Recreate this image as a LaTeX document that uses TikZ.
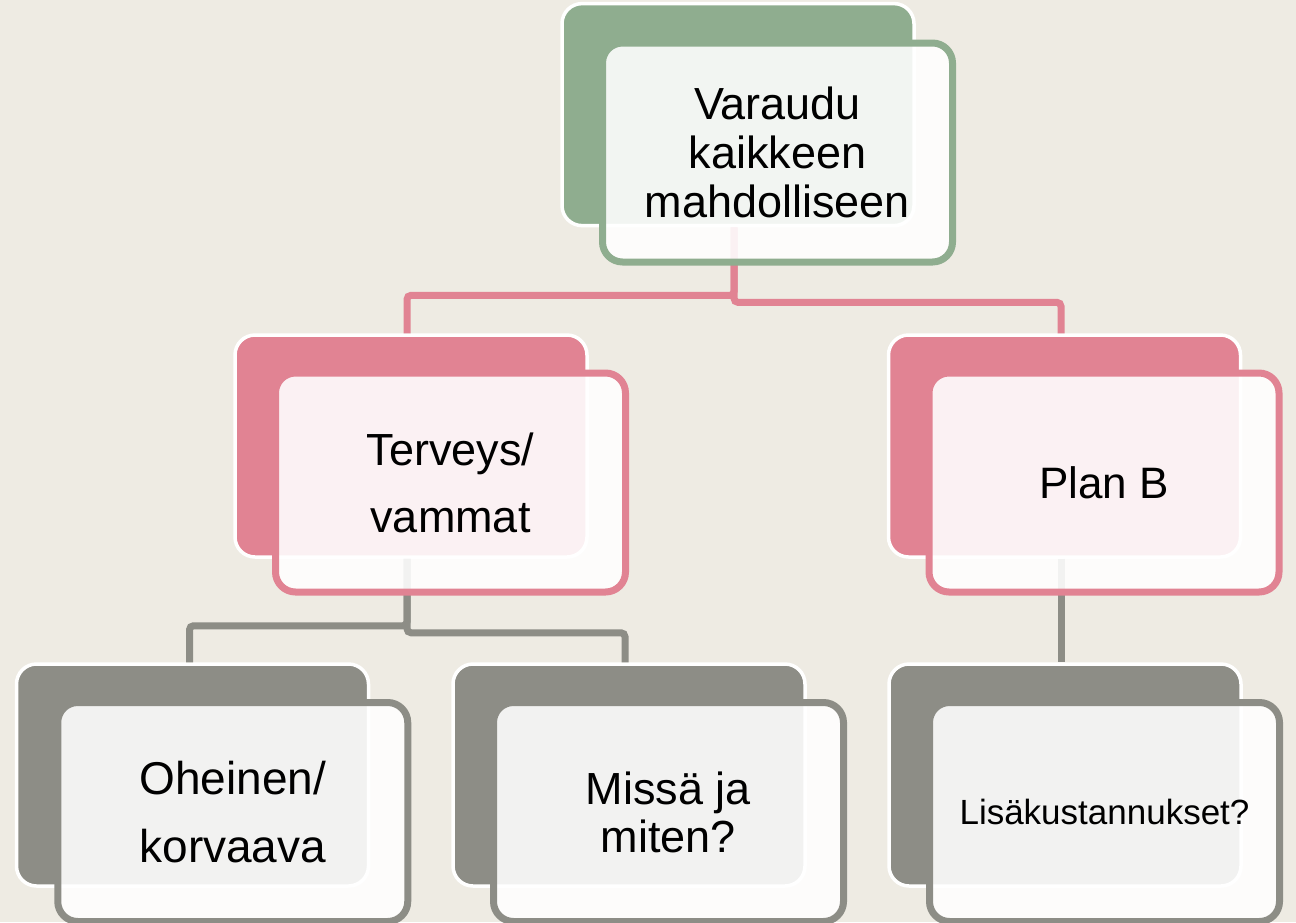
\documentclass[tikz,border=0pt]{standalone}
\usepackage{fontspec}
\setmainfont{Liberation Sans}
\definecolor{bgc}{HTML}{EEEBE3}
\definecolor{grn}{HTML}{8FAD8F}
\definecolor{pnk}{HTML}{E18393}
\definecolor{gry}{HTML}{8D8D86}
\begin{document}
\begin{tikzpicture}[x=1pt,y=-1pt,
  backbox/.style={rectangle, rounded corners=20pt, minimum width=352pt, minimum height=222pt,
    draw=white, line width=3.5pt, fill=#1, inner sep=0pt},
  frontbox/.style={rectangle, rounded corners=20pt, minimum width=350pt, minimum height=219pt,
    draw=#1, line width=7pt, fill=white, fill opacity=0.89, text opacity=1, draw opacity=1,
    inner sep=0pt, align=center, text=black},
  conn/.style={draw=#1, line width=7pt, rounded corners=4pt}
]
\useasboundingbox (0,0) rectangle (1296,922);
\fill[bgc] (0,0) rectangle (1296,922);

% back boxes
\node[backbox=grn] (b0) at (738,114.6) {};
\node[backbox=pnk] (b1) at (411,446) {};
\node[backbox=pnk] (b2) at (1064.5,446) {};
\node[backbox=gry] (b3) at (192.5,775) {};
\node[backbox=gry] (b4) at (629,775) {};
\node[backbox=gry] (b5) at (1065,775) {};

% connectors
\draw[conn=pnk] ([xshift=-4pt]b0.south) -- ++(0,68) -| ([xshift=-4pt]b1.north);
\draw[conn=pnk] ([xshift=-4pt]b0.south) -- ++(0,75) -| ([xshift=-3.5pt]b2.north);
\draw[conn=gry] ([xshift=-4pt]b1.south) -- ++(0,67) -| ([xshift=-3pt]b3.north);
\draw[conn=gry] ([xshift=-4pt]b1.south) -- ++(0,74) -| ([xshift=-4pt]b4.north);
\draw[conn=gry] ([xshift=-3.5pt]b2.south) -- ([xshift=-4pt]b5.north);

% front boxes
\node[frontbox=grn, font=\fontsize{45pt}{49pt}\selectfont] (f0) at (777.5,152.5) {Varaudu\\kaikkeen\\mahdolliseen};
\node[frontbox=pnk, font=\fontsize{45pt}{67pt}\selectfont] (f1) at (450.5,482.5) {Terveys/\\vammat};
\node[frontbox=pnk, font=\fontsize{44pt}{52pt}\selectfont] (f2) at (1104,482.5) {Plan B};
\node[frontbox=gry, font=\fontsize{46pt}{68pt}\selectfont] (f3) at (232.75,812) {Oheinen/\\korvaava};
\node[frontbox=gry, font=\fontsize{45pt}{48pt}\selectfont] (f4) at (668.5,812) {Missä ja\\miten?};
\node[frontbox=gry, font=\fontsize{35pt}{42pt}\selectfont] (f5) at (1104.5,812) {Lisäkustannukset?};
\end{tikzpicture}
\end{document}
